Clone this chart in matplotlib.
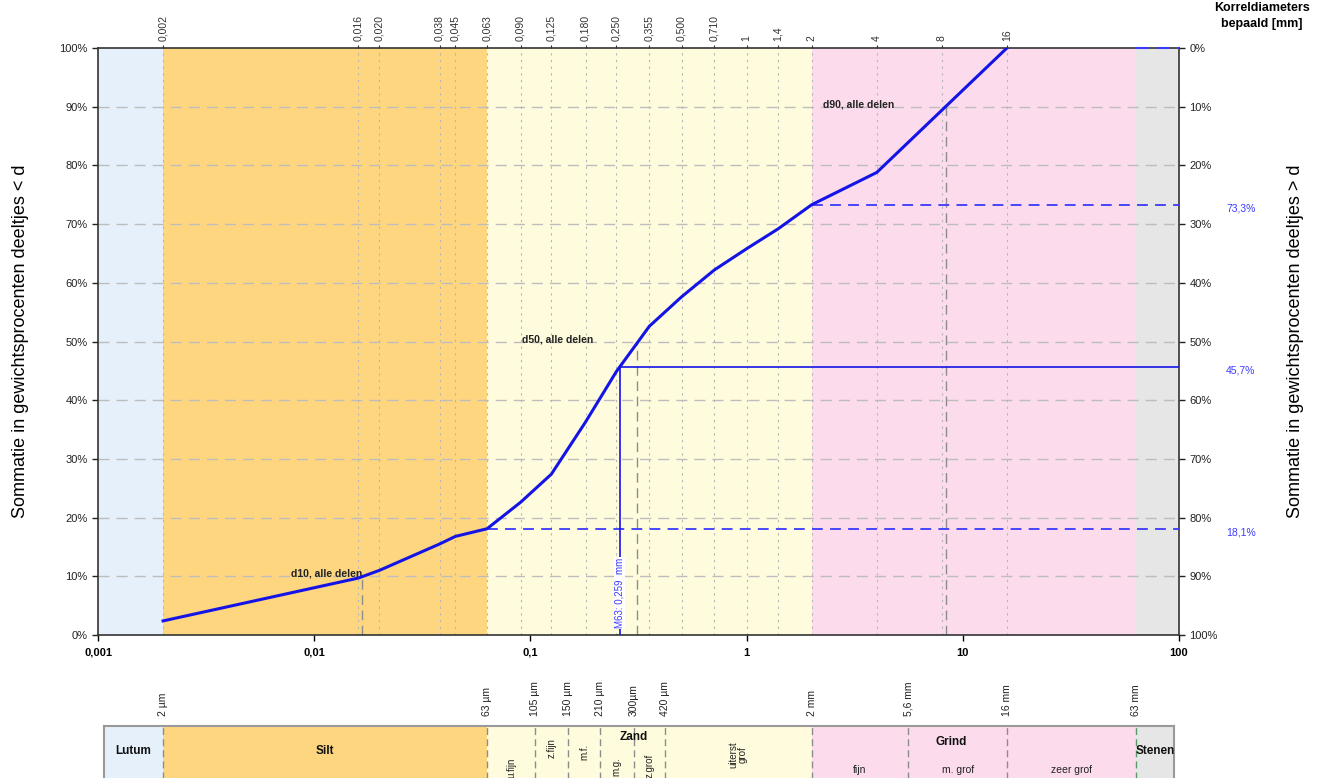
import numpy as np
import matplotlib
matplotlib.use("Agg")
import matplotlib.pyplot as plt
from matplotlib.ticker import FixedLocator, FixedFormatter, NullLocator

plt.rcParams['font.family'] = ['Liberation Sans', 'DejaVu Sans']

# sieve sizes (mm) and cumulative mass percentage passing
sieve_mm = [0.002, 0.016, 0.020, 0.038, 0.045, 0.063, 0.090, 0.125, 0.180, 0.250,
            0.355, 0.500, 0.710, 1.0, 1.4, 2.0, 4.0, 8.0, 16.0]
sieve_labels = ["0,002", "0,016", "0,020", "0,038", "0,045", "0,063", "0,090", "0,125",
                "0,180", "0,250", "0,355", "0,500", "0,710", "1", "1,4", "2", "4", "8", "16"]
passing = [2.4, 9.7, 11.0, 15.5, 16.8, 18.1, 22.6, 27.4, 36.3, 44.9,
           52.6, 57.6, 62.2, 65.8, 69.2, 73.3, 78.8, 89.4, 100.0]

d10, d50, d90 = 0.0166, 0.311, 8.36
m63 = 0.259
frac_63um, frac_m63, frac_2mm = 18.1, 45.7, 73.3

# fraction bands (mm)
bands = [(0.001, 0.002, '#e6f0fb'), (0.002, 0.063, '#fed680'),
         (0.063, 2.0, '#fffcdd'), (2.0, 63.0, '#fcdcec'), (63.0, 100.0, '#e6e6e6')]

# classification bar
class_bounds = [0.002, 0.063, 0.105, 0.150, 0.210, 0.300, 0.420, 2.0, 5.6, 16.0, 63.0]
class_bound_labels = ["2 µm", "63 µm", "105 µm", "150 µm", "210 µm", "300µm", "420 µm",
                      "2 mm", "5,6 mm", "16 mm", "63 mm"]
sub_labels = ["u.fijn", "z.fijn", "m.f.", "m.g.", "z.grof", "uiterst\ngrof"]
sub_y = [0.43, 0.70, 0.65, 0.45, 0.46, 0.61]
grind_labels = ["fijn", "m. grof", "zeer grof"]

blue = '#1414e6'
lblue = '#3a3aff'

W, H = 1317, 778
fig = plt.figure(figsize=(W / 100, H / 100), dpi=100)

def box(x0, y0, x1, y1):
    return [x0 / W, 1 - y1 / H, (x1 - x0) / W, (y1 - y0) / H]

ax = fig.add_axes(box(98, 48, 1179, 635))
ax.set_xscale('log')
ax.set_xlim(0.001, 100)
ax.set_ylim(0, 100)

for x0, x1, c in bands:
    ax.axvspan(x0, x1, color=c, lw=0, zorder=0)

for y in range(10, 100, 10):
    ax.axhline(y, color='#bdbdbd', lw=1, ls=(0, (8, 5)), zorder=1)
for x in sieve_mm:
    ax.axvline(x, color='#b5b5b5', lw=0.8, ls=(0, (2, 4)), zorder=1)

# d-values
for d, p in [(d10, 10), (d50, 50), (d90, 90)]:
    ax.plot([d, d], [0, p], color='#8c8c8c', lw=1, ls=(0, (7, 4)), zorder=2)
ax.text(d10, 10.4, "d10, alle delen", ha='right', va='center', fontsize=7.5, weight='bold', color='#222')
ax.text(0.195, 50.4, "d50, alle delen", ha='right', va='center', fontsize=7.5, weight='bold', color='#222')
ax.text(2.25, 90.4, "d90, alle delen", ha='left', va='center', fontsize=7.5, weight='bold', color='#222')

# fraction lines
ax.plot([0.063, 100], [frac_63um] * 2, color=lblue, lw=1.3, ls=(0, (6, 4)), zorder=3)
ax.plot([2.0, 100], [frac_2mm] * 2, color=lblue, lw=1.3, ls=(0, (6, 4)), zorder=3)
ax.plot([63.0, 100], [100, 100], color=lblue, lw=1.5, ls=(0, (6, 4)), zorder=3, clip_on=False)
ax.plot([m63, 100], [frac_m63] * 2, color=blue, lw=1.2, zorder=3)
ax.plot([m63, m63], [0, frac_m63], color=blue, lw=1.2, zorder=3)
ax.text(m63, 1.2, "M63: 0,259  mm", rotation=90, ha='center', va='bottom', fontsize=7,
        color=lblue, zorder=4, bbox=dict(facecolor='white', edgecolor='none', pad=0.5))

ax.plot(sieve_mm, passing, color=blue, lw=2.2, zorder=5)

ax.xaxis.set_major_locator(FixedLocator([0.001, 0.01, 0.1, 1, 10, 100]))
ax.xaxis.set_major_formatter(FixedFormatter(["0,001", "0,01", "0,1", "1", "10", "100"]))
ax.xaxis.set_minor_locator(NullLocator())
ax.tick_params(axis='x', labelsize=8, length=4, width=1, pad=5)
for t in ax.get_xticklabels():
    t.set_fontweight('bold')
ax.set_yticks(range(0, 101, 10))
ax.set_yticklabels([f"{v}%" for v in range(0, 101, 10)])
ax.tick_params(axis='y', labelsize=8, length=4, width=1, colors='#222')
ax.set_ylabel("Sommatie in gewichtsprocenten deeltjes < d", fontsize=13, labelpad=22)
for s in ax.spines.values():
    s.set_color('#333')
    s.set_linewidth(1.2)

axr = ax.twinx()
axr.set_ylim(100, 0)
axr.set_yticks(range(0, 101, 10))
axr.set_yticklabels([f"{v}%" for v in range(0, 101, 10)])
axr.tick_params(axis='y', labelsize=8, length=4, width=1, colors='#222')
axr.set_ylabel("Sommatie in gewichtsprocenten deeltjes > d", fontsize=13, labelpad=50)
for s in axr.spines.values():
    s.set_visible(False)
for p, txt in [(frac_2mm, "73,3%"), (frac_m63, "45,7%"), (frac_63um, "18,1%")]:
    ax.annotate(txt, xy=(1.0, p), xycoords=('axes fraction', 'data'), xytext=(34, -3),
                textcoords='offset points', fontsize=7.5, color=lblue, va='center')

axt = ax.twiny()
axt.set_xscale('log')
axt.set_xlim(0.001, 100)
axt.xaxis.set_major_locator(FixedLocator(sieve_mm))
axt.xaxis.set_major_formatter(FixedFormatter(sieve_labels))
axt.xaxis.set_minor_locator(NullLocator())
axt.tick_params(axis='x', labelsize=7.5, rotation=90, length=2, pad=3, colors='#333')
for s in axt.spines.values():
    s.set_visible(False)

fig.text(1262 / W, 1 - 8 / H, "Korreldiameters", ha='center', va='center', fontsize=9, weight='bold')
fig.text(1262 / W, 1 - 24 / H, "bepaald [mm]", ha='center', va='center', fontsize=9, weight='bold')

# classification bar below the chart
lo = 10 ** (-3 + 6 / 216.2)
hi = 10 ** (2 - 5 / 216.2)
axb = fig.add_axes(box(104, 726, 1174, 800))
axb.set_xscale('log')
axb.set_xlim(lo, hi)
axb.set_ylim(0, 1)
axb.set_xticks([])
axb.set_yticks([])
axb.xaxis.set_minor_locator(NullLocator())
for x0, x1, c in bands:
    axb.axvspan(max(x0, lo), min(x1, hi), color=c, lw=0, zorder=0)
for x, lab in zip(class_bounds, class_bound_labels):
    col = '#5a9a6a' if x == 63.0 else '#8c8c8c'
    axb.axvline(x, color=col, lw=1, ls=(0, (5, 3)), zorder=1)
    axb.text(x, 1.14, lab, rotation=90, ha='center', va='bottom', fontsize=7.5,
             color='#222', transform=axb.get_xaxis_transform(), clip_on=False)
for s in axb.spines.values():
    s.set_color('#999')
    s.set_linewidth(1.5)

tb = dict(ha='center', va='center', fontsize=8.5, weight='bold', color='#111')
axb.text(np.sqrt(lo * 0.002), 0.66, "Lutum", **tb)
axb.text(np.sqrt(0.002 * 0.063), 0.66, "Silt", **tb)
axb.text(0.30, 0.85, "Zand", **tb)
axb.text(8.8, 0.78, "Grind", **tb)
axb.text(np.sqrt(63 * hi), 0.66, "Stenen", **tb)
sand_bounds = class_bounds[1:8]
for i, lab in enumerate(sub_labels):
    xm = np.sqrt(sand_bounds[i] * sand_bounds[i + 1])
    axb.text(xm, sub_y[i], lab, rotation=90, ha='center', va='center', fontsize=7,
             color='#222', linespacing=0.9)
grind_bounds = class_bounds[7:11]
for i, lab in enumerate(grind_labels):
    xm = np.sqrt(grind_bounds[i] * grind_bounds[i + 1])
    axb.text(xm, 0.40, lab, ha='center', va='center', fontsize=7.5, color='#222')

fig.savefig("out.png", dpi=100)
